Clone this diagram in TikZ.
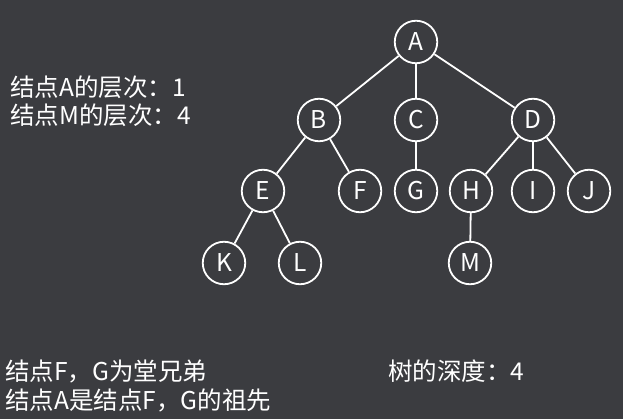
\documentclass[tikz,border=0pt]{standalone}
\usepackage{fontspec}
\setmainfont{Noto Sans CJK SC}
\definecolor{bg}{HTML}{3B3C40}
\begin{document}
\begin{tikzpicture}[x=1pt,y=-1pt,
  treenode/.style={circle,draw=white,line width=1.8pt,minimum size=42.5pt,inner sep=0pt,text=white,font=\fontsize{24.5}{27}\selectfont},
  edge/.style={draw=white,line width=1.8pt},
  label/.style={anchor=base west,inner sep=0pt,text=white,font=\fontsize{24.5}{27}\selectfont}]
\fill[bg] (0,0) rectangle (623,419);
\useasboundingbox (0,0) rectangle (623,419);
\node[treenode] (A) at (416,42) {A};
\node[treenode] (B) at (319,120) {B};
\node[treenode] (C) at (416,120) {C};
\node[treenode] (D) at (533,120) {D};
\node[treenode] (E) at (263,191) {E};
\node[treenode] (F) at (360,191) {F};
\node[treenode] (G) at (416,191) {G};
\node[treenode] (H) at (471,191) {H};
\node[treenode] (I) at (533,191) {I};
\node[treenode] (J) at (589,191) {J};
\node[treenode] (K) at (224,263) {K};
\node[treenode] (L) at (300,263) {L};
\node[treenode] (M) at (470,263) {M};
\draw[edge] (A) -- (B);
\draw[edge] (A) -- (C);
\draw[edge] (A) -- (D);
\draw[edge] (B) -- (E);
\draw[edge] (B) -- (F);
\draw[edge] (C) -- (G);
\draw[edge] (D) -- (H);
\draw[edge] (D) -- (I);
\draw[edge] (D) -- (J);
\draw[edge] (E) -- (K);
\draw[edge] (E) -- (L);
\draw[edge] (H) -- (M);
\node[label] (t1) at (10,97) {结点A的层次：1};
\node[label] (t2) at (10,125) {结点M的层次：4};
\node[label] (t3) at (5,380) {结点F，G为堂兄弟};
\node[label] (t4) at (5,409) {结点A是结点F，G的祖先};
\node[label] (t5) at (388,380) {树的深度：4};
\end{tikzpicture}
\end{document}
